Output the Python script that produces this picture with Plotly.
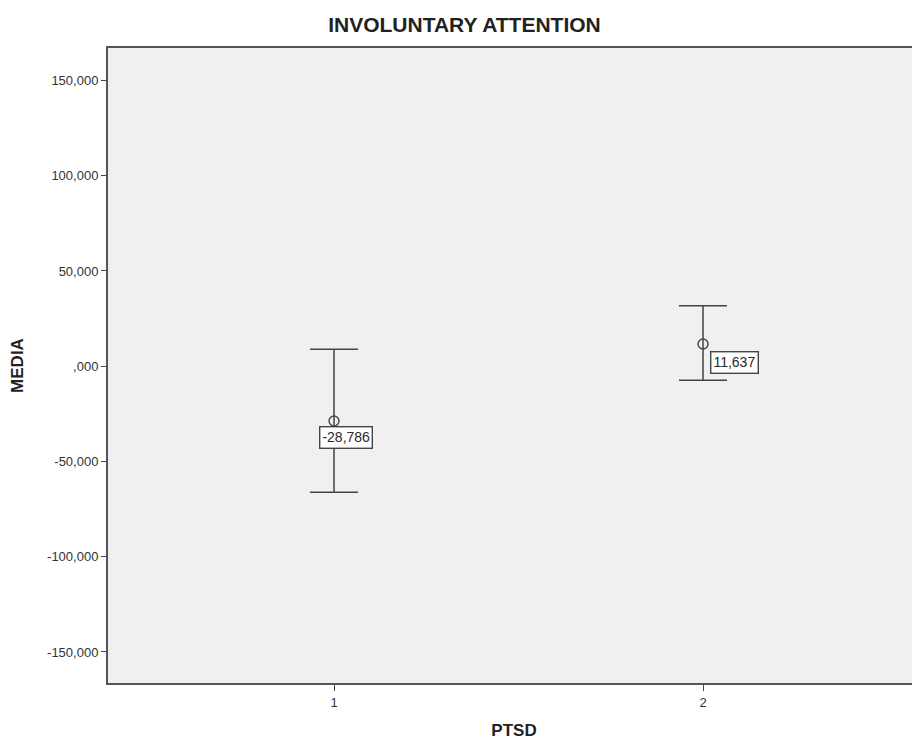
import plotly.graph_objects as go

categories = [1, 2]
means = [-28.786, 11.637]
upper = [8.9, 31.7]
lower = [-66.2, -7.4]
mean_labels = ["-28,786", "11,637"]
tick_vals = [150, 100, 50, 0, -50, -100, -150]
tick_text = ["150,000", "100,000", "50,000", ",000", "-50,000", "-100,000", "-150,000"]

err_plus = [u - m for u, m in zip(upper, means)]
err_minus = [m - l for m, l in zip(means, lower)]

fig = go.Figure()
fig.add_trace(go.Scatter(
    x=categories, y=means, mode="markers",
    marker=dict(symbol="circle-open", size=10, color="#444444", line=dict(width=1.4)),
    error_y=dict(type="data", symmetric=False, array=err_plus, arrayminus=err_minus,
                 color="#444444", thickness=1.5, width=24),
    showlegend=False, hoverinfo="skip"))

label_offsets = [(12, -16), (31, -18)]
for c, m, t, (dx, dy) in zip(categories, means, mean_labels, label_offsets):
    fig.add_annotation(x=c, y=m, xref="x", yref="y", text=t, showarrow=False,
                       xshift=dx, yshift=dy,
                       font=dict(family="Arial", size=14, color="#2a2a2a"),
                       bgcolor="white", bordercolor="#444444", borderwidth=1.4, borderpad=2)

fig.update_layout(
    width=912, height=736,
    margin=dict(l=100, r=0, t=40.3, b=61.3),
    paper_bgcolor="white", plot_bgcolor="#f0f0f0",
    title=dict(text="<b>INVOLUNTARY ATTENTION</b>", x=0.5005, xanchor="center",
               y=1 - 17 / 736, yanchor="middle",
               font=dict(family="Arial", size=21, color="#222222")),
    xaxis=dict(range=[0.3875, 2.588], tickvals=categories, ticktext=["1", "2"],
               showgrid=False, zeroline=False, showline=True, linecolor="#555555",
               linewidth=2, mirror=True, ticks="outside", ticklen=6, tickcolor="#444444",
               tickfont=dict(family="Arial", size=13, color="#333333"),
               title=dict(text="<b>PTSD</b>", standoff=16,
                          font=dict(family="Arial", size=17, color="#222222"))),
    yaxis=dict(range=[-166.3, 167.05], tickvals=tick_vals, ticktext=tick_text,
               showgrid=False, zeroline=False, showline=True, linecolor="#555555",
               linewidth=2, ticks="outside", ticklen=5, tickcolor="#444444",
               tickfont=dict(family="Arial", size=13, color="#333333"),
               title=dict(text="<b>MEDIA</b>", standoff=23,
                          font=dict(family="Arial", size=17, color="#222222"))),
)

fig.write_html("out.html")
